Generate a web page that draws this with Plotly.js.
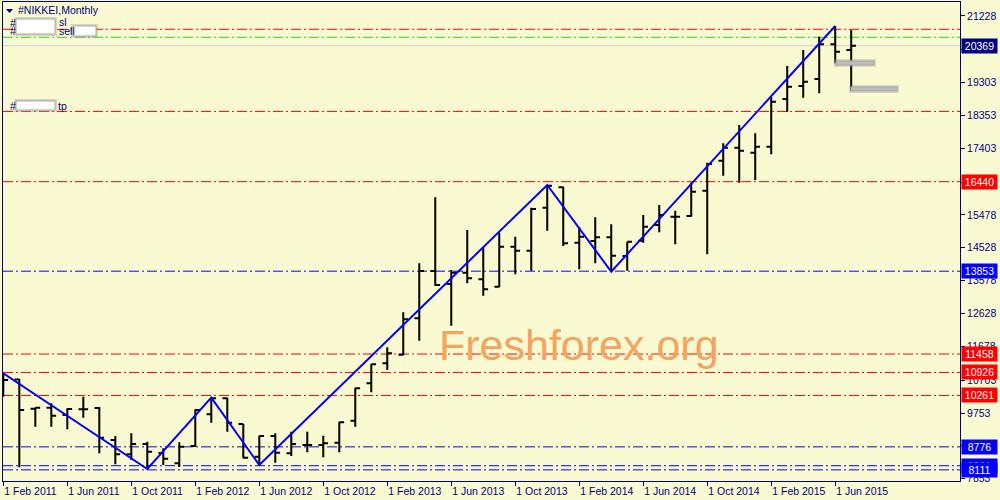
<!DOCTYPE html>
<html><head><meta charset="utf-8">
<script src="https://cdn.plot.ly/plotly-3.0.1.min.js"></script>
<style>html,body{margin:0;padding:0;background:#FAFAD2;}#chart{width:1000px;height:500px;}</style>
</head><body><div id="chart"></div>
<script>
const months = ["2011-02","2011-03","2011-04","2011-05","2011-06","2011-07","2011-08","2011-09","2011-10","2011-11","2011-12",
"2012-01","2012-02","2012-03","2012-04","2012-05","2012-06","2012-07","2012-08","2012-09","2012-10","2012-11","2012-12",
"2013-01","2013-02","2013-03","2013-04","2013-05","2013-06","2013-07","2013-08","2013-09","2013-10","2013-11","2013-12",
"2014-01","2014-02","2014-03","2014-04","2014-05","2014-06","2014-07","2014-08","2014-09","2014-10","2014-11","2014-12",
"2015-01","2015-02","2015-03","2015-04","2015-05","2015-06","2015-07"];
const openVals  = [10850,10720,9880,9908,9697,9862,9900,8974,8560,8858,8600,8300,8801,9717,10179,9436,8492,9090,8589,8830,8830,8897,9532,10613,11191,11440,12491,13859,13482,13810,13618,13406,14561,14445,15688,16277,14676,14726,14831,14292,14734,15188,15428,15448,16179,17046,17422,17277,17451,18829,19205,19407,20410,20245];
const highVals  = [10900,10737,9910,10035,9890,10226,9930,9090,9167,8926,8734,8907,9862,10197,10197,9436,9099,9167,9214,9214,9099,9503,10486,11170,11653,12665,14081,15988,13887,15043,14543,14965,14850,15688,16344,16290,15121,15410,15208,14706,15477,15766,15601,16411,16988,17549,18078,17838,18878,19783,20245,20630,20939,20823];
const lowVals   = [10225,8185,9359,9359,9284,9620,8589,8272,8396,8135,8252,8190,8781,9474,9214,8445,8252,8318,8512,8617,8474,8617,9359,10353,11000,11420,11844,13425,12277,13502,13144,13387,13763,13867,15024,14581,13907,14081,13838,13867,14676,14976,14629,15428,14340,16613,16411,16488,17231,18462,18867,18994,19860,19069];
const closeVals = [10708,9841,9908,9677,9870,9862,9041,8560,8858,8636,8430,8781,9841,10179,9474,8464,9090,8607,8858,8830,8879,9486,10470,11162,11480,12462,13859,13455,13810,13647,13329,14561,14445,15650,16320,14658,14850,14831,14300,14706,15139,15477,15428,16150,16951,17422,17335,17451,18751,19185,19329,20410,20196,20369];

const zigzagMonths = ["2011-02","2011-11","2012-03","2012-06","2013-12","2014-04","2015-06"];
const zigzagValues = [10900,8135,10197,8252,16344,13838,20939];

const tickMonths = ["2011-02","2011-06","2011-10","2012-02","2012-06","2012-10","2013-02","2013-06","2013-10","2014-02","2014-06","2014-10","2015-02","2015-06"];
const tickLabels = ["1 Feb 2011","1 Jun 2011","1 Oct 2011","1 Feb 2012","1 Jun 2012","1 Oct 2012","1 Feb 2013","1 Jun 2013","1 Oct 2013","1 Feb 2014","1 Jun 2014","1 Oct 2014","1 Feb 2015","1 Jun 2015"];
const priceTicks = [21228,20253,19303,18353,17403,16428,15478,14528,13578,12628,11678,10703,9753,8803,7853];
const priceTickLabels = ["21228","20253","19303","18353","17403","","15478","14528","13578","12628","11678","10703","9753","","7853"];

const levelValues = [20844,20612,18470,16440,13853,11458,10926,10261,8776,8231,8111];
const levelColors = ["#FF0000","#32CD32","#FF0000","#FF0000","#0000FF","#FF0000","#FF0000","#FF0000","#0000FF","#0000FF","#0000FF"];
const labeledLevels = [16440,13853,11458,10926,10261,8776,8231,8111];
const labeledColors = ["#FF0000","#0000FF","#FF0000","#FF0000","#FF0000","#0000FF","#0000FF","#0000FF"];
const currentPrice = 20369;

const NAVY = "#000080";
const L = 3, R = 960, T = 2, B = 481;
const px = x => (x - L) / (R - L);
const py = y => (B - y) / (B - T);

const traces = [
  {type:"ohlc", x:months, open:openVals, high:highVals, low:lowVals, close:closeVals,
   increasing:{line:{color:"#000000", width:2}}, decreasing:{line:{color:"#000000", width:2}},
   tickwidth:0.3, hoverinfo:"skip"},
  {type:"scatter", mode:"lines", x:zigzagMonths, y:zigzagValues, line:{color:"#0000FF", width:2}, hoverinfo:"skip"}
];

const shapes = [];
levelValues.forEach((v,i) => {
  shapes.push({type:"line", xref:"paper", x0:0, x1:1, yref:"y", y0:v, y1:v, layer:"below",
    line:{color:levelColors[i], width:1, dash:"10px,3px,2px,3px"}});
});
shapes.push({type:"line", xref:"paper", x0:0, x1:1, yref:"y", y0:currentPrice, y1:currentPrice, layer:"below",
  line:{color:"#D0D0D0", width:1}});
function blurBox(x0,y0,x1,y1,fill){
  shapes.push({type:"rect", xref:"paper", yref:"paper", x0:px(x0-2), x1:px(x1+2), y0:py(y1+2), y1:py(y0-2),
    fillcolor:"rgba(150,150,150,0.35)", line:{width:0}, layer:"above"});
  shapes.push({type:"rect", xref:"paper", yref:"paper", x0:px(x0), x1:px(x1), y0:py(y1), y1:py(y0),
    fillcolor:fill, line:{color:"#A8A8A8", width:1}, layer:"above"});
}
blurBox(16,19,55,34,"#FFFFFF");
blurBox(73,26,96,36,"#FFFFFF");
blurBox(16,101,55,110,"#FFFFFF");
blurBox(836,61,874,65,"#BDBDBD");
blurBox(851,87,897,91,"#BDBDBD");
shapes.push({type:"path", xref:"paper", yref:"paper",
  path:`M ${px(6)} ${py(9)} L ${px(13)} ${py(9)} L ${px(9.5)} ${py(13)} Z`, fillcolor:NAVY, line:{width:0}});

const annotations = [];
const txt = (x, y, t, size) => annotations.push({xref:"paper", yref:"paper", x:px(x), y:py(y), xanchor:"left", yanchor:"middle",
  text:t, showarrow:false, font:{size:size||10, color:NAVY, family:"Liberation Sans, Arial, sans-serif"}});
txt(16, 10, "#NIKKEI,Monthly", 10.5);
txt(8, 23, "#", 10.5);
txt(57, 22, "sl", 10.5);
txt(8, 31, "#", 10.5);
txt(57, 31, "sell", 10.5);
txt(8, 106, "#", 10.5);
txt(56, 106, "tp", 10.5);

labeledLevels.forEach((v,i) => {
  annotations.push({xref:"paper", x:1, xanchor:"left", xshift:1, yref:"y", y:v, yanchor:"middle",
    text:String(v), showarrow:false, bgcolor:labeledColors[i], width:33, height:12, borderpad:1, align:"center",
    font:{color:"#FFFFFF", size:10.5, family:"Liberation Sans, Arial, sans-serif"}});
});
annotations.push({xref:"paper", x:1, xanchor:"left", xshift:1, yref:"y", y:currentPrice, yanchor:"middle",
  text:String(currentPrice), showarrow:false, bgcolor:NAVY, width:33, height:12, borderpad:1, align:"center",
  font:{color:"#FFFFFF", size:10.5, family:"Liberation Sans, Arial, sans-serif"}});
annotations.push({xref:"paper", yref:"paper", x:px(579), y:py(345), xanchor:"center", yanchor:"middle",
  text:"Freshforex.org", showarrow:false, font:{size:43, color:"#F4A460", family:"Liberation Sans, Arial, sans-serif"}});

const layout = {
  width:1000, height:500,
  margin:{l:L, r:1000-R, t:T, b:500-B, pad:0},
  paper_bgcolor:"#FAFAD2", plot_bgcolor:"#FAFAD2",
  showlegend:false,
  font:{family:"Liberation Sans, Arial, sans-serif", size:10, color:NAVY},
  xaxis:{type:"category", range:[-0.02, 59.8], tickmode:"array", tickvals:tickMonths, ticktext:tickLabels,
    ticks:"outside", ticklen:4, tickcolor:NAVY, showline:true, linecolor:NAVY, linewidth:1, mirror:true,
    showgrid:false, zeroline:false, ticklabelposition:"outside right", rangeslider:{visible:false},
    tickfont:{size:10.5, color:NAVY}, fixedrange:true},
  yaxis:{side:"right", range:[7789, 21632], tickmode:"array", tickvals:priceTicks, ticktext:priceTickLabels,
    ticks:"outside", ticklen:4, tickcolor:NAVY, showline:true, linecolor:NAVY, linewidth:1, mirror:true,
    showgrid:false, zeroline:false, tickfont:{size:10.5, color:NAVY}, fixedrange:true},
  shapes:shapes, annotations:annotations
};
Plotly.newPlot("chart", traces, layout, {staticPlot:true, displayModeBar:false});
</script></body></html>
